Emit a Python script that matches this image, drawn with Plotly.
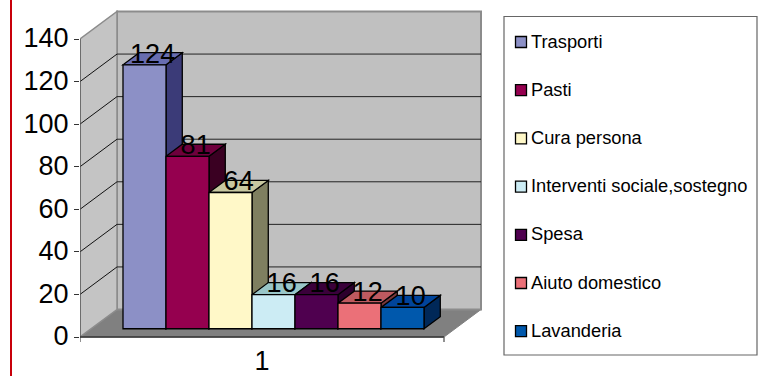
import plotly.graph_objects as go

# Service counts, one column per service
services = ["Trasporti", "Pasti", "Cura persona", "Interventi sociale,sostegno",
            "Spesa", "Aiuto domestico", "Lavanderia"]
counts = [124, 81, 64, 16, 16, 12, 10]
front_colors = ["#8C90C6", "#95004F", "#FFF8C8", "#CCECF4", "#4F004F", "#EB7078", "#0058AC"]
top_colors = ["#686DB0", "#6E003C", "#C8C8A0", "#99C6C8", "#3A003A", "#BE5A60", "#00449A"]
side_colors = ["#3B3B78", "#3A0022", "#7F7F60", "#668488", "#2C002C", "#7A383C", "#002858"]
y_ticks = [0, 20, 40, 60, 80, 100, 120, 140]
category_label = "1"

WIDTH, HEIGHT = 760, 376
FONT = "Liberation Sans"
LABEL_SIZE = 27
LEGEND_SIZE = 18.3

# Plot frame and scale: one x unit is one column width, y is in counts
LEFT, RIGHT, TOP, BOTTOM = 80, 492, 4, 345
SLOT_PX = 43.0
UNIT_PX = 298.0 / 140
ZERO_PY = 337.0
y_min = (ZERO_PY - BOTTOM) / UNIT_PX
y_max = (ZERO_PY - TOP) / UNIT_PX

# Oblique projection of the box: depth 0 is the front edge, depth 1 the back wall
DEPTH_X = 37.0 / SLOT_PX
DEPTH_Y = 27.5 / UNIT_PX
FLOOR_W = 364.0 / SLOT_PX
COL_D0, COL_D1 = 0.30, 0.74
COL_START = 1.0


def pr(u, v, d=0.0):
    return u + d * DEPTH_X, v + d * DEPTH_Y


def poly(points, fill, line="black", width=1.3):
    path = "M" + " L".join(f"{x:.4f},{y:.4f}" for x, y in points) + " Z"
    return dict(type="path", xref="x", yref="y", path=path, fillcolor=fill,
                line=dict(color=line, width=width), layer="below")


def seg(p, q, color="black", width=1.0):
    return dict(type="line", xref="x", yref="y", x0=p[0], y0=p[1], x1=q[0], y1=q[1],
                line=dict(color=color, width=width), layer="below")


def paper_x(px):
    return (px - LEFT) / (RIGHT - LEFT)


def paper_y(py):
    return 1 - (py - TOP) / (BOTTOM - TOP)


top_val = y_ticks[-1]
shapes = [
    # floor and walls
    poly([pr(0, 0), pr(FLOOR_W, 0), pr(FLOOR_W, 0, 1), pr(0, 0, 1)], "#808080", "#808080", 1),
    poly([pr(0, 0, 1), pr(FLOOR_W, 0, 1), pr(FLOOR_W, top_val, 1), pr(0, top_val, 1)],
         "#C0C0C0", "#8C8C8C", 2),
    poly([pr(0, 0), pr(0, 0, 1), pr(0, top_val, 1), pr(0, top_val)], "#C4C4C4", "#8C8C8C", 1.5),
]
for t in y_ticks[1:-1]:
    shapes.append(seg(pr(0, t), pr(0, t, 1), "#111111", 1))
    shapes.append(seg(pr(0, t, 1), pr(FLOOR_W, t, 1), "#222222", 1))

# axis lines and the two end ticks under the floor
drop = -5 / UNIT_PX
shapes.append(seg(pr(0, drop), pr(0, top_val), "#555555", 1.3))
shapes.append(seg(pr(0, 0), pr(FLOOR_W, 0), "#333333", 1.3))
shapes.append(seg(pr(FLOOR_W, drop), pr(FLOOR_W, 0), "#555555", 1.3))

# column tops and sides sit under the front faces, painted left to right
base = COL_D0 * DEPTH_Y
col_dx = (COL_D1 - COL_D0) * DEPTH_X
col_dy = (COL_D1 - COL_D0) * DEPTH_Y
for i, v in enumerate(counts):
    u0 = COL_START + i
    u1 = u0 + 1
    shapes.append(poly([(u1, base), (u1 + col_dx, base + col_dy),
                        (u1 + col_dx, base + v + col_dy), (u1, base + v)], side_colors[i]))
    shapes.append(poly([(u0, base + v), (u1, base + v),
                        (u1 + col_dx, base + v + col_dy), (u0 + col_dx, base + v + col_dy)],
                       top_colors[i]))

# red rule along the left edge of the page
shapes.append(dict(type="line", xref="paper", yref="paper", x0=paper_x(11), x1=paper_x(11),
                   y0=paper_y(0), y1=paper_y(HEIGHT), line=dict(color="#C8000A", width=2)))

# legend frame, swatches and captions
shapes.append(dict(type="rect", xref="paper", yref="paper",
                   x0=paper_x(504), x1=paper_x(757), y0=paper_y(16.5), y1=paper_y(355),
                   fillcolor="white", line=dict(color="#666666", width=1.2)))
annotations = []
for i, name in enumerate(services):
    cy = 42 + i * 48.2
    shapes.append(dict(type="rect", xref="paper", yref="paper",
                       x0=paper_x(515.5), x1=paper_x(526.5), y0=paper_y(cy - 5.5), y1=paper_y(cy + 5.5),
                       fillcolor=front_colors[i], line=dict(color="black", width=1.3)))
    annotations.append(dict(xref="paper", yref="paper", x=paper_x(529), y=paper_y(cy), yshift=1,
                            xanchor="left", yanchor="middle", text=name, showarrow=False,
                            font=dict(family=FONT, size=LEGEND_SIZE, color="black")))

fig = go.Figure()
for i, name in enumerate(services):
    fig.add_trace(go.Bar(x=[COL_START + i + 0.5], y=[counts[i]], base=[base], width=[1.0], name=name,
                         marker=dict(color=front_colors[i], line=dict(color="black", width=1.3)),
                         showlegend=False))

# value labels float above the middle of each column top
mid = (COL_D1 - COL_D0) / 2
fig.add_trace(go.Scatter(
    x=[COL_START + i + 0.5 + mid * DEPTH_X for i in range(len(counts))],
    y=[base + v + mid * DEPTH_Y + 3 / UNIT_PX for v in counts],
    mode="text", text=[str(v) for v in counts], textposition="middle center",
    textfont=dict(family=FONT, size=LABEL_SIZE, color="black"),
    cliponaxis=False, showlegend=False))

fig.update_layout(
    width=WIDTH, height=HEIGHT, autosize=False,
    margin=dict(l=LEFT, r=WIDTH - RIGHT, t=TOP, b=HEIGHT - BOTTOM, pad=0, autoexpand=False),
    paper_bgcolor="white", plot_bgcolor="rgba(0,0,0,0)",
    barmode="overlay", showlegend=False,
    shapes=shapes, annotations=annotations,
    xaxis=dict(range=[0, (RIGHT - LEFT) / SLOT_PX], showgrid=False, zeroline=False, showline=False,
               automargin=False, tickmode="array", tickvals=[FLOOR_W / 2], ticktext=[category_label],
               ticks="", ticklen=0, ticklabelstandoff=-3,
               tickfont=dict(family=FONT, size=LABEL_SIZE, color="black")),
    yaxis=dict(range=[y_min, y_max], showgrid=False, zeroline=False, showline=False,
               automargin=False, tickmode="array", tickvals=y_ticks, ticks="outside", ticklen=5,
               ticklabelshift=-1, tickcolor="#333333",
               tickfont=dict(family=FONT, size=LABEL_SIZE, color="black")),
)

fig.write_html("out.html")
